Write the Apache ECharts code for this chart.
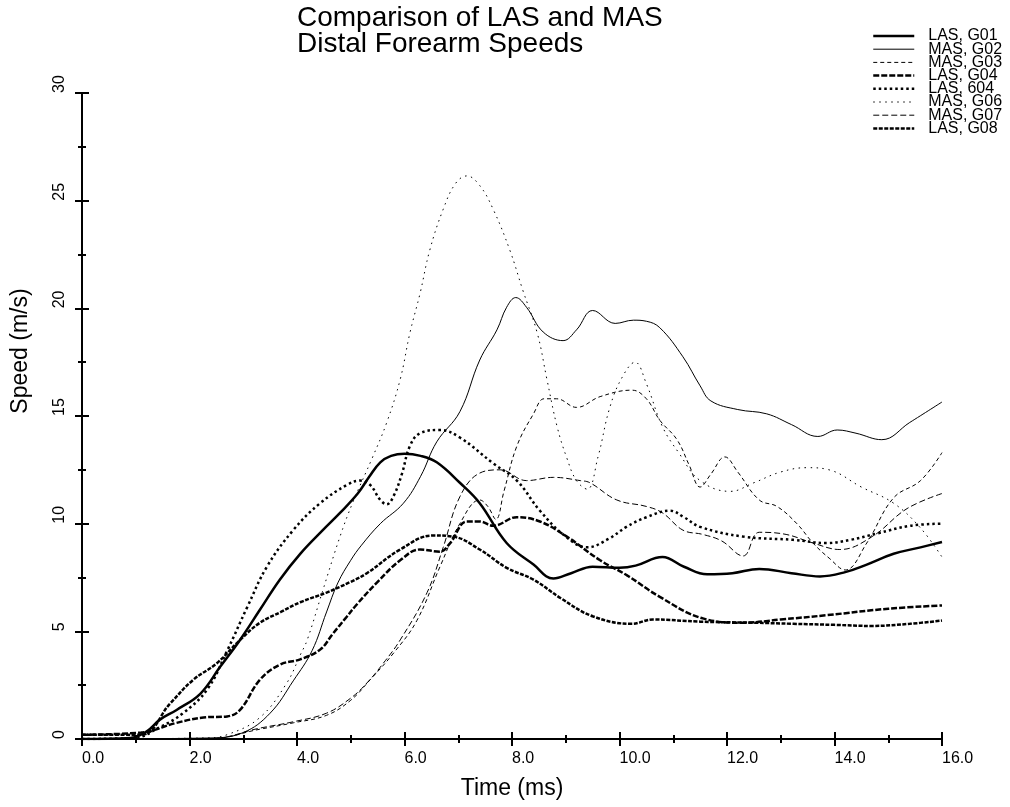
<!DOCTYPE html>
<html>
<head>
<meta charset="utf-8">
<script src="https://cdn.jsdelivr.net/npm/echarts@6/dist/echarts.min.js"></script>
<style>
  html, body { margin: 0; padding: 0; background: #fff; }
  #chart { width: 1010px; height: 807px; }
</style>
</head>
<body>
<div id="chart"></div>
<script>
// series names, in legend order
const seriesNames = ["LAS, G01", "MAS, G02", "MAS, G03", "LAS, G04", "LAS, 604", "MAS, G06", "MAS, G07", "LAS, G08"];

// [time (ms), speed (m/s)]
const lasG01 = [[0,0],[0.9,0.05],[1.2,0.35],[1.45,0.9],[1.76,1.35],[2.2,2.1],[2.57,3.35],[2.94,4.6],[3.31,6.0],[3.68,7.4],[4.06,8.6],[4.48,9.7],[4.8,10.5],[5.13,11.4],[5.35,12.2],[5.55,12.85],[5.75,13.15],[6.0,13.25],[6.3,13.15],[6.6,12.85],[7.03,11.9],[7.4,10.95],[7.9,9.1],[8.4,8.1],[8.77,7.45],[9.1,7.7],[9.5,8.0],[10.0,7.95],[10.3,8.05],[10.8,8.45],[11.2,8.0],[11.63,7.65],[12.1,7.7],[12.6,7.9],[13.2,7.7],[13.73,7.55],[14.2,7.75],[14.6,8.1],[15.1,8.6],[15.6,8.9],[16,9.15]];
const masG02 = [[0,0],[2.4,0.05],[3.0,0.3],[3.5,1.2],[3.93,2.7],[4.28,4.1],[4.55,5.9],[4.76,7.25],[5.0,8.3],[5.2,9.0],[5.55,10.0],[5.98,10.95],[6.3,12.2],[6.6,13.8],[7.03,15.2],[7.4,17.6],[7.72,19.0],[7.9,20.05],[8.07,20.5],[8.27,20.05],[8.58,18.9],[8.95,18.5],[9.2,19.0],[9.5,19.9],[9.92,19.3],[10.26,19.45],[10.5,19.4],[10.75,19.1],[11.18,17.75],[11.5,16.4],[11.7,15.7],[12.2,15.3],[12.74,15.1],[13.2,14.6],[13.69,14.05],[14.05,14.35],[14.4,14.2],[14.88,13.9],[15.4,14.7],[16,15.65]];
const masG03 = [[0,0],[2.4,0.02],[3.3,0.45],[3.93,0.75],[4.55,1.1],[5.0,1.8],[5.36,2.75],[5.8,4.0],[6.23,5.5],[6.66,8.0],[7.03,10.0],[7.4,11.1],[7.55,10.8],[7.7,10.2],[7.85,11.5],[8.09,13.6],[8.4,15.1],[8.6,15.8],[8.83,15.8],[9.2,15.4],[9.64,15.9],[10.23,16.2],[10.5,15.8],[10.75,14.8],[11.07,13.9],[11.3,12.7],[11.5,11.7],[11.7,12.3],[11.96,13.1],[12.2,12.4],[12.6,11.1],[12.93,10.8],[13.3,10.0],[13.6,9.1],[13.9,8.4],[14.2,7.85],[14.6,9.1],[15.1,11.2],[15.6,12.0],[16,13.3]];
const lasG04 = [[0,0.2],[1.1,0.3],[1.76,0.75],[2.26,1.0],[2.7,1.05],[2.94,1.35],[3.31,2.75],[3.68,3.45],[4.06,3.7],[4.43,4.15],[4.67,4.9],[4.9,5.6],[5.13,6.3],[5.5,7.3],[5.92,8.3],[6.29,8.8],[6.66,8.7],[6.85,9.1],[7.16,10.1],[7.4,10.1],[7.65,9.9],[8.09,10.3],[8.52,10.1],[9.02,9.4],[9.64,8.3],[10.14,7.6],[10.75,6.6],[11.55,5.6],[12.3,5.4],[13.0,5.55],[13.86,5.75],[15.0,6.05],[16,6.2]];
const las604 = [[0,0],[0.97,0.05],[1.45,0.55],[1.88,1.2],[2.33,2.3],[2.7,4.1],[3.07,6.1],[3.44,8.0],[3.93,9.7],[4.43,10.95],[4.93,11.8],[5.17,12.0],[5.36,11.8],[5.55,11.1],[5.67,10.9],[5.8,11.3],[5.95,12.3],[6.1,13.6],[6.29,14.2],[6.66,14.35],[7.03,14.0],[7.65,12.8],[8.09,12.0],[8.52,10.6],[9.0,9.4],[9.4,8.9],[9.8,9.3],[10.13,9.85],[10.5,10.3],[10.94,10.6],[11.2,10.3],[11.5,9.85],[12.3,9.4],[13.23,9.25],[13.86,9.1],[14.3,9.25],[14.8,9.55],[15.4,9.9],[16,10.0]];
const masG06 = [[0,0],[2.3,0.05],[2.7,0.2],[3.31,1.0],[3.81,2.6],[4.06,3.9],[4.19,4.6],[4.48,6.9],[4.8,9.4],[5.04,11.0],[5.4,13.05],[5.67,14.7],[5.92,16.7],[6.1,18.85],[6.29,20.7],[6.47,22.7],[6.72,24.6],[6.95,25.8],[7.16,26.15],[7.4,25.7],[7.65,24.6],[7.96,22.7],[8.2,20.85],[8.47,18.85],[8.65,16.7],[8.84,14.5],[9.02,13.05],[9.2,12.0],[9.4,11.6],[9.6,13.1],[9.82,15.4],[10.05,16.8],[10.29,17.5],[10.5,16.5],[10.8,14.5],[11.1,13.3],[11.5,12.0],[12.06,11.5],[12.5,11.9],[13.0,12.4],[13.49,12.6],[13.9,12.5],[14.5,11.7],[15.1,10.95],[15.6,9.8],[16,8.45]];
const masG07 = [[0,0],[2.4,0.02],[3.3,0.5],[3.93,0.8],[4.55,1.2],[5.0,1.9],[5.3,2.6],[5.6,3.5],[5.92,4.6],[6.42,6.8],[6.72,8.9],[7.03,11.25],[7.4,12.35],[7.78,12.5],[8.27,12.0],[8.77,12.15],[9.27,12.0],[9.45,11.9],[9.95,11.1],[10.5,10.8],[10.8,10.5],[11.18,9.7],[11.55,9.5],[11.9,9.2],[12.3,8.5],[12.6,9.6],[13.1,9.5],[13.6,9.1],[14.1,8.8],[14.7,9.4],[15.35,10.7],[16,11.4]];
const lasG08 = [[0,0.2],[1.1,0.2],[1.64,1.65],[2.07,2.75],[2.5,3.5],[2.94,4.6],[3.31,5.4],[3.7,5.9],[4.06,6.35],[4.55,6.8],[5.0,7.3],[5.3,7.7],[5.92,8.8],[6.53,9.45],[6.9,9.4],[7.4,8.8],[7.9,7.95],[8.4,7.4],[8.9,6.55],[9.5,5.7],[10.23,5.35],[10.62,5.55],[11.5,5.45],[12.5,5.4],[13.23,5.35],[14.0,5.3],[14.7,5.25],[15.4,5.35],[16,5.5]];

const seriesData = [lasG01, masG02, masG03, lasG04, las604, masG06, masG07, lasG08];

// line look per series: [width, dash]
const lineLooks = [
    [2.5, "solid"],
    [1, "solid"],
    [1, [4, 3]],
    [2.5, [6, 2]],
    [2.5, [2.5, 3]],
    [1, [1.5, 4.5]],
    [1, [6, 3]],
    [2.5, [4, 1.5]]
];

const font = "'Liberation Sans', Arial, sans-serif";
const black = "#000";

const el = document.getElementById("chart");
const chart = echarts.init(el, null, { renderer: "canvas" });

const tickStyle = { color: black, width: 2 };

const series = seriesNames.map((name, i) => ({
    name: name,
    type: "line",
    xAxisIndex: 0,
    yAxisIndex: 0,
    data: seriesData[i],
    symbol: "none",
    showSymbol: false,
    smooth: 0.4,
    itemStyle: { color: black },
    lineStyle: { color: black, width: lineLooks[i][0], type: lineLooks[i][1] },
    emphasis: { disabled: true },
    silent: true
}));

const option = {
    animation: false,
    backgroundColor: "#fff",
    title: {
        text: "Comparison of LAS and MAS\nDistal Forearm Speeds",
        left: 297,
        top: 5,
        padding: 0,
        textStyle: { fontFamily: font, fontSize: 28, fontWeight: "normal", lineHeight: 26, color: black }
    },
    legend: {
        orient: "vertical",
        left: 872,
        top: 28,
        padding: 0,
        itemWidth: 41,
        itemHeight: 10,
        itemGap: -2.8,
        selectedMode: false,
        data: seriesNames,
        itemStyle: { opacity: 0 },
        lineStyle: { width: "inherit" },
        textStyle: { fontFamily: font, fontSize: 16, lineHeight: 13, color: black, padding: [0, 0, 0, 9] }
    },
    grid: [
        { left: 82, right: 68, top: 93, bottom: 68 },
        { left: 82, right: 68, top: 93, bottom: 68 }
    ],
    xAxis: [
        {
            type: "value", gridIndex: 0, min: 0, max: 16, interval: 2,
            name: "Time (ms)", nameLocation: "middle", nameGap: 38,
            nameTextStyle: { fontFamily: font, fontSize: 23, color: black },
            axisLine: { show: true, onZero: false, lineStyle: tickStyle },
            axisTick: { show: true, length: 7, lineStyle: tickStyle },
            minorTick: { show: true, splitNumber: 2, length: 4, lineStyle: tickStyle },
            splitLine: { show: false },
            axisLabel: {
                margin: 12, align: "left", fontFamily: font, fontSize: 16, color: black,
                formatter: (v) => v.toFixed(1)
            }
        },
        {
            type: "value", gridIndex: 1, min: 0, max: 16, interval: 2,
            axisLine: { show: false, onZero: false },
            axisTick: { show: true, inside: true, length: 7, lineStyle: tickStyle },
            minorTick: { show: true, splitNumber: 2, length: 4, lineStyle: tickStyle },
            splitLine: { show: false },
            axisLabel: { show: false }
        }
    ],
    yAxis: [
        {
            type: "value", gridIndex: 0, min: 0, max: 30, interval: 5,
            name: "Speed (m/s)", nameLocation: "middle", nameGap: 50,
            nameTextStyle: { fontFamily: font, fontSize: 23, color: black, padding: [0, 0, 0, 130] },
            axisLine: { show: true, onZero: false, lineStyle: tickStyle },
            axisTick: { show: true, length: 7, lineStyle: tickStyle },
            minorTick: { show: true, splitNumber: 2, length: 4, lineStyle: tickStyle },
            splitLine: { show: false },
            axisLabel: {
                rotate: 90, align: "left", verticalAlign: "middle", margin: 22,
                fontFamily: font, fontSize: 16, color: black
            }
        },
        {
            type: "value", gridIndex: 1, min: 0, max: 30, interval: 5,
            axisLine: { show: false, onZero: false },
            axisTick: { show: true, inside: true, length: 7, lineStyle: tickStyle },
            minorTick: { show: true, splitNumber: 2, length: 4, lineStyle: tickStyle },
            splitLine: { show: false },
            axisLabel: { show: false }
        }
    ],
    series: series
};

chart.setOption(option);
</script>
</body>
</html>
